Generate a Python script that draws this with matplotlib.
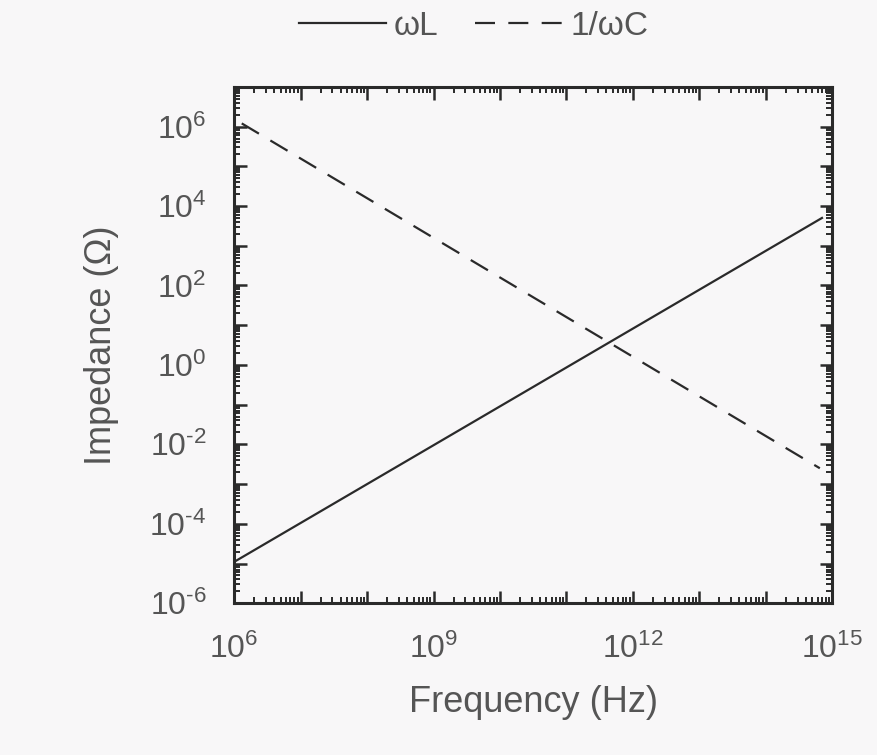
import math

import matplotlib
matplotlib.use("Agg")
import matplotlib.pyplot as plt
from matplotlib.ticker import LogLocator, FuncFormatter, NullFormatter

# endpoints (log-log straight lines)
freq_L = [1e6, 7e14]
imp_L = [1.1e-5, 5e3]
freq_C = [1.3e6, 6.5e14]
imp_C = [1.2e6, 2.5e-3]

x_labels_exp = [6, 9, 12, 15]
y_labels_exp = [-6, -4, -2, 0, 2, 4, 6]

plt.rcParams["font.family"] = ["Liberation Sans", "DejaVu Sans"]
plt.rcParams["mathtext.fontset"] = "custom"
plt.rcParams["mathtext.rm"] = "Liberation Sans"
plt.rcParams["mathtext.it"] = "Liberation Sans"

txt = "#555555"
ink = "#2a2a2a"

fig = plt.figure(figsize=(8.77, 7.55), dpi=100, facecolor="#f8f7f8")
ax = fig.add_axes([0.267, 0.201, 0.682, 0.684], facecolor="#f8f7f8")

ax.plot(freq_L, imp_L, color=ink, lw=1.6, label="ωL")
ax.plot(freq_C, imp_C, color=ink, lw=1.6, ls=(0, (9, 6)), label="1/ωC")

ax.set_xscale("log")
ax.set_yscale("log")
ax.set_xlim(1e6, 1e15)
ax.set_ylim(1e-6, 1e7)

ax.xaxis.set_major_locator(LogLocator(base=10, numticks=20))
ax.yaxis.set_major_locator(LogLocator(base=10, numticks=20))
ax.xaxis.set_minor_locator(LogLocator(base=10, subs=range(2, 10), numticks=100))
ax.yaxis.set_minor_locator(LogLocator(base=10, subs=range(2, 10), numticks=100))
ax.xaxis.set_minor_formatter(NullFormatter())
ax.yaxis.set_minor_formatter(NullFormatter())


def fmt_exp(allowed):
    def f(v, pos):
        e = int(round(math.log10(v)))
        if e not in allowed:
            return ""
        s = str(e).replace("-", "\u2010")
        return r"$10^{%s}$" % s
    return f


ax.xaxis.set_major_formatter(FuncFormatter(fmt_exp(x_labels_exp)))
ax.yaxis.set_major_formatter(FuncFormatter(fmt_exp(y_labels_exp)))

ax.tick_params(which="both", direction="in", top=True, right=True,
               colors=ink, labelcolor=txt, labelsize=23)
ax.tick_params(which="major", length=9, width=1.8)
ax.tick_params(which="minor", length=4.5, width=1.4)
ax.tick_params(axis="x", which="major", pad=22)
ax.tick_params(axis="y", which="major", pad=20)
for s in ax.spines.values():
    s.set_linewidth(2.2)
    s.set_color(ink)

ax.set_xlabel("Frequency (Hz)", fontsize=26, color=txt, labelpad=14)
ax.set_ylabel("Impedance (Ω)", fontsize=26, color=txt, labelpad=22)

leg = fig.legend(loc="upper center", bbox_to_anchor=(0.54, 1.025), ncol=2,
                 frameon=False, fontsize=24, handlelength=2.6,
                 columnspacing=1.1, handletextpad=0.25)
for t in leg.get_texts():
    t.set_color(txt)

fig.savefig("out.png", dpi=100, facecolor=fig.get_facecolor())
